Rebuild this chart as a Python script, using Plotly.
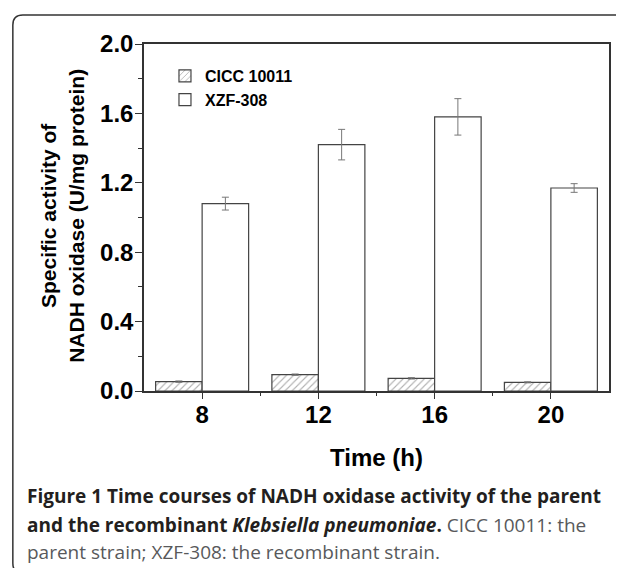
import plotly.graph_objects as go

# ---- data ----
times = [8, 12, 16, 20]
cicc = [0.054, 0.094, 0.073, 0.050]
cicc_err = [0.004, 0.004, 0.004, 0.003]
xzf = [1.08, 1.42, 1.58, 1.17]
xzf_err = [0.037, 0.088, 0.105, 0.025]
series_names = ["CICC 10011", "XZF-308"]
y_ticks = [0.0, 0.4, 0.8, 1.2, 1.6, 2.0]
x_title = "Time (h)"
y_title = "Specific activity of<br>NADH oxidase (U/mg protein)"

W, H = 624, 568
OFF = 8  # page body margin of the browser
L, R, T, B = 144, 609.5, 44, 391.5  # plot area in window pixels


def px(x):
    return (x - L) / (R - L)


def py(y):
    return (B - y) / (B - T)


fig = go.Figure()
fig.add_trace(go.Bar(
    x=times, y=cicc, name=series_names[0],
    marker=dict(color="white", line=dict(color="#444", width=1.2),
                pattern=dict(shape="/", fgcolor="#666", bgcolor="white", size=5, solidity=0.22)),
    error_y=dict(type="data", array=cicc_err, color="#777", thickness=1, width=3.5),
))
fig.add_trace(go.Bar(
    x=times, y=xzf, name=series_names[1],
    marker=dict(color="white", line=dict(color="#444", width=1.2)),
    error_y=dict(type="data", array=xzf_err, color="#777", thickness=1, width=3.5),
))

axis_font = dict(family="Liberation Sans, Arial", size=24, color="black", weight="bold")

fig.update_layout(
    width=W - OFF, height=H - OFF,
    margin=dict(l=L - OFF, r=W - R, t=T - OFF, b=H - B, pad=0),
    paper_bgcolor="white", plot_bgcolor="white",
    barmode="group", bargap=0.2, bargroupgap=0,
    showlegend=True,
    legend=dict(x=px(165), y=py(59), xanchor="left", yanchor="top",
                bgcolor="rgba(0,0,0,0)", tracegroupgap=0,
                font=dict(family="Liberation Sans, Arial", size=16, color="black", weight="bold")),
    xaxis=dict(
        range=[6, 22], tickmode="array", tickvals=times, ticktext=[str(t) for t in times],
        ticks="outside", ticklen=6, tickwidth=1.2, tickcolor="#333",
        showline=True, linecolor="#333", linewidth=1.5, mirror=True,
        showgrid=False, zeroline=False,
        tickfont=axis_font, ticklabelstandoff=-5,
        minor=dict(tickvals=[10, 14, 18], ticks="outside", ticklen=3, tickcolor="#333", tickwidth=1.2),
    ),
    yaxis=dict(
        range=[0, 2.0], tickmode="array", tickvals=y_ticks,
        ticktext=[f"{v:.1f}" for v in y_ticks],
        ticks="outside", ticklen=7, tickwidth=1.2, tickcolor="#333",
        showline=True, linecolor="#333", linewidth=1.5, mirror=True,
        showgrid=False, zeroline=False,
        tickfont=axis_font, ticklabelstandoff=-3,
        minor=dict(tickvals=[0.2, 0.6, 1.0, 1.4, 1.8], ticks="outside", ticklen=4,
                   tickcolor="#333", tickwidth=1.2),
    ),
)

# axis titles
fig.add_annotation(x=px(62), y=py(216), xref="paper", yref="paper", text=y_title,
                   textangle=-90, showarrow=False, xanchor="center", yanchor="middle",
                   font=dict(family="Liberation Sans, Arial", size=21, color="black", weight="bold"))
fig.add_annotation(x=px(377), y=py(458), xref="paper", yref="paper", text=x_title,
                   showarrow=False, xanchor="center", yanchor="middle",
                   font=dict(family="Liberation Sans, Arial", size=24, color="black", weight="bold"))

# caption
cap_font = dict(family="Open Sans", size=19, color="#231f20")
gray = "#58595b"
cap_lines = [
    "<b>Figure 1 Time courses of NADH oxidase activity of the parent</b>",
    "<b>and the recombinant <i>Klebsiella pneumoniae</i>.</b> "
    f"<span style='color:{gray}'>CICC 10011: the</span>",
    f"<span style='color:{gray}'>parent strain; XZF-308: the recombinant strain.</span>",
]
for line, yc in zip(cap_lines, [497, 526, 553]):
    fig.add_annotation(x=px(25), y=py(yc), xref="paper", yref="paper", text=line,
                       showarrow=False, xanchor="left", yanchor="middle", font=cap_font)

# outer rounded frame
x0, y0, x1, y1, r = 12.7, 15, 660, 574, 10
path = (f"M{px(x1)},{py(y0)} L{px(x0 + r)},{py(y0)} "
        f"Q{px(x0)},{py(y0)} {px(x0)},{py(y0 + r)} "
        f"L{px(x0)},{py(y1 - r)} Q{px(x0)},{py(y1)} {px(x0 + r)},{py(y1)} "
        f"L{px(x1)},{py(y1)}")
fig.add_shape(type="path", path=path, xref="paper", yref="paper",
              line=dict(color="#333", width=1.5), layer="below")

fig.write_html("out.html")
